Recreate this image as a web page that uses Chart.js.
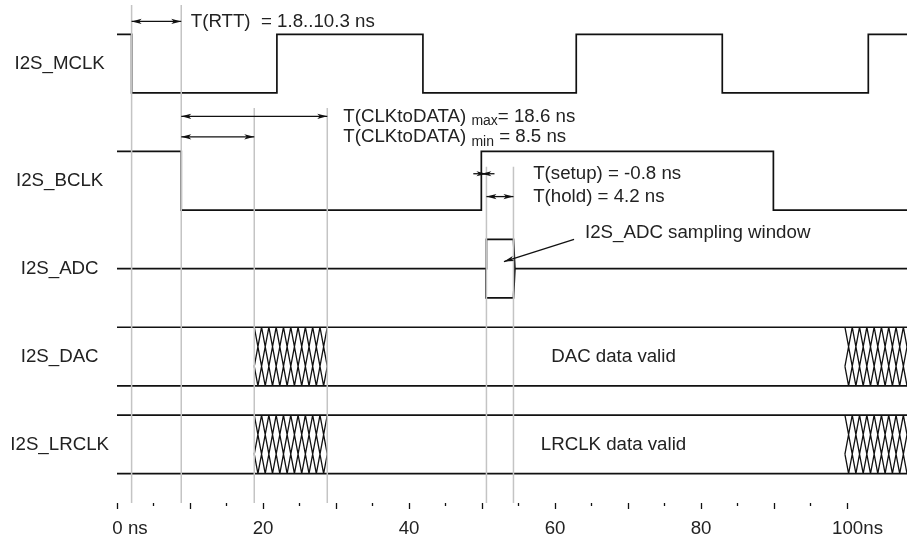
<!DOCTYPE html>
<html>
<head>
<meta charset="utf-8">
<script src="https://cdn.jsdelivr.net/npm/chart.js@4.4.1/dist/chart.umd.min.js"></script>
<style>
  html, body { margin: 0; padding: 0; background: #fff; }
</style>
</head>
<body>
<canvas id="timing" width="910" height="543"></canvas>
<script>
// time axis, ns
const axisTicks = [0, 5, 10, 15, 20, 25, 30, 35, 40, 45, 50, 55, 60, 65, 70, 75, 80, 85, 90, 95, 100];
const labelTicks = [0, 20, 40, 60, 80, 100];
const labelTexts = ['0 ns', '20', '40', '60', '80', '100ns'];
const endTime = 108.2;

// signal rows (row units, 0 = top)
const signalNames = ['I2S_MCLK', 'I2S_BCLK', 'I2S_ADC', 'I2S_DAC', 'I2S_LRCLK'];
const signalRows = [0.5, 2.5, 4, 5.5, 7];

// edges in ns, levels are [start, other]
const mclkEdges = [2.0, 21.9, 41.9, 62.9, 82.9, 102.9];
const mclkLevels = [0, 1];
const bclkEdges = [8.8, 49.9, 89.9];
const bclkLevels = [2, 3];
const adcLevel = 4;
const adcWindow = [50.6, 54.3];
const adcWindowRows = [3.5, 4.5];
const dacRows = [5, 6];
const lrclkRows = [6.5, 7.5];
const invalidSpans = [[18.8, 28.8], [99.7, 108.2]];

// grey reference lines
const markerTimes = [2.0, 8.8, 18.8, 28.8, 50.6, 54.3];
const markerTops = [-0.5, -0.5, 1.26, 1.26, 2.26, 2.26];

const FONT = 'Liberation Sans';
const INK = '#111';
const TXT = '#222';

function clockPoints(edges, levels) {
  let lvl = 0;
  const pts = [{ x: 0, y: levels[0] }];
  edges.forEach(t => {
    pts.push({ x: t, y: levels[lvl] });
    lvl = 1 - lvl;
    pts.push({ x: t, y: levels[lvl] });
  });
  pts.push({ x: endTime, y: levels[lvl] });
  return pts;
}

function busPoints(rows) {
  return [
    { x: 0, y: rows[0] }, { x: endTime, y: rows[0] }, { x: endTime, y: null },
    { x: 0, y: rows[1] }, { x: endTime, y: rows[1] }
  ];
}

// crossed hatch inside the invalid data spans
function hatchPoints(spans, busList) {
  const pts = [];
  const cell = 1.0, run = 1.5;
  busList.forEach(rows => {
    spans.forEach(([a, b]) => {
      for (let xs = a - 2 * cell; xs <= b + 2 * cell + 1e-6; xs += cell) {
        [1, -1].forEach(dir => {
          let t0 = 0, t1 = 1;
          const ta = (a - xs) / (dir * run * cell), tb = (b - xs) / (dir * run * cell);
          t0 = Math.max(t0, Math.min(ta, tb));
          t1 = Math.min(t1, Math.max(ta, tb));
          if (t1 <= t0) return;
          const h = rows[1] - rows[0];
          pts.push({ x: xs + dir * run * cell * t0, y: rows[0] + h * t0 });
          pts.push({ x: xs + dir * run * cell * t1, y: rows[0] + h * t1 });
          pts.push({ x: xs, y: null });
        });
      }
    });
  });
  return pts;
}

const markerPoints = [];
markerTimes.forEach((t, i) => {
  markerPoints.push({ x: t, y: markerTops[i] }, { x: t, y: 8 }, { x: t, y: null });
});

const adcPoints = [
  { x: 0, y: adcLevel }, { x: adcWindow[0] - 0.05, y: adcLevel },
  { x: adcWindow[0], y: adcWindowRows[0] }, { x: adcWindow[1], y: adcWindowRows[0] },
  { x: adcWindow[1] + 0.2, y: adcLevel }, { x: adcWindow[1], y: adcWindowRows[1] },
  { x: adcWindow[0], y: adcWindowRows[1] }, { x: adcWindow[0] - 0.05, y: adcLevel },
  { x: adcWindow[0] - 0.05, y: null },
  { x: adcWindow[1] + 0.2, y: adcLevel }, { x: endTime, y: adcLevel }
];

// label padding so the number sits on its tick and the unit hangs to the right
const measureCtx = document.createElement('canvas').getContext('2d');
measureCtx.font = '18.7px "' + FONT + '"';
function padLabel(txt) {
  const num = txt.match(/^\d+/)[0];
  const unit = txt.slice(num.length);
  if (!unit) return txt;
  const n = Math.round(measureCtx.measureText(unit).width / measureCtx.measureText(' ').width);
  return ' '.repeat(n) + txt;
}

function arrow(ctx, x1, y1, x2, y2, both) {
  ctx.beginPath();
  ctx.moveTo(x1, y1);
  ctx.lineTo(x2, y2);
  ctx.stroke();
  const head = (px, py, fx, fy) => {
    const a = Math.atan2(py - fy, px - fx);
    const L = 10, W = 2.6;
    ctx.beginPath();
    ctx.moveTo(px, py);
    ctx.lineTo(px - L * Math.cos(a) + W * Math.sin(a), py - L * Math.sin(a) - W * Math.cos(a));
    ctx.lineTo(px - L * 0.75 * Math.cos(a), py - L * 0.75 * Math.sin(a));
    ctx.lineTo(px - L * Math.cos(a) - W * Math.sin(a), py - L * Math.sin(a) + W * Math.cos(a));
    ctx.closePath();
    ctx.fill();
  };
  head(x2, y2, x1, y1);
  if (both) head(x1, y1, x2, y2);
}

const notes = {
  id: 'notes',
  afterDatasetsDraw(chart) {
    const { ctx, scales: { x, y } } = chart;
    const X = v => x.getPixelForValue(v), Y = v => y.getPixelForValue(v);
    ctx.save();
    ctx.strokeStyle = INK;
    ctx.fillStyle = INK;
    ctx.lineWidth = 1.3;

    arrow(ctx, X(2.0), Y(-0.22), X(8.8), Y(-0.22), true);
    arrow(ctx, X(8.8), Y(1.40), X(28.8), Y(1.40), true);
    arrow(ctx, X(8.8), Y(1.75), X(18.8), Y(1.75), true);
    arrow(ctx, X(48.8), Y(2.38), X(50.6), Y(2.38), false);
    arrow(ctx, X(51.7), Y(2.38), X(49.9), Y(2.38), false);
    arrow(ctx, X(50.6), Y(2.77), X(54.3), Y(2.77), true);
    arrow(ctx, X(62.6), Y(3.50), X(53.0), Y(3.88), false);

    ctx.fillStyle = TXT;
    ctx.textBaseline = 'middle';
    ctx.textAlign = 'left';
    const big = '18.7px "' + FONT + '"', small = '14px "' + FONT + '"';
    ctx.font = big;
    ctx.fillText('T(RTT)  = 1.8..10.3 ns', X(10.1), Y(-0.22));

    const sub = (row, lead, s, tail) => {
      let px = X(31.0);
      const py = Y(row);
      ctx.font = big;
      ctx.fillText(lead, px, py);
      px += ctx.measureText(lead).width;
      ctx.font = small;
      ctx.fillText(s, px, py + 5);
      px += ctx.measureText(s).width;
      ctx.font = big;
      ctx.fillText(tail, px, py);
    };
    sub(1.405, 'T(CLKtoDATA) ', 'max', '= 18.6 ns');
    sub(1.75, 'T(CLKtoDATA) ', 'min', ' = 8.5 ns');

    ctx.font = big;
    ctx.fillText('T(setup) = -0.8 ns', X(57.0), Y(2.38));
    ctx.fillText('T(hold) = 4.2 ns', X(57.0), Y(2.77));
    ctx.fillText('I2S_ADC sampling window', X(64.1), Y(3.39));
    ctx.textAlign = 'center';
    ctx.fillText('DAC data valid', X(68.0), Y(5.5));
    ctx.fillText('LRCLK data valid', X(68.0), Y(7.0));
    ctx.restore();
  }
};

const line = (data, extra) => Object.assign({
  data, borderColor: INK, borderWidth: 1.7, pointRadius: 0, spanGaps: false, tension: 0
}, extra || {});

new Chart(document.getElementById('timing').getContext('2d'), {
  type: 'line',
  data: {
    datasets: [
      line(markerPoints, { borderColor: '#c4c4c4', borderWidth: 1.5 }),
      line(clockPoints(mclkEdges, mclkLevels)),
      line(clockPoints(bclkEdges, bclkLevels)),
      line(adcPoints),
      line(busPoints(dacRows)),
      line(busPoints(lrclkRows)),
      line(hatchPoints(invalidSpans, [dacRows, lrclkRows]), { borderWidth: 1.3 })
    ]
  },
  options: {
    responsive: false,
    animation: false,
    events: [],
    layout: { padding: { top: 5, right: 3, left: 0, bottom: 0 } },
    plugins: { legend: { display: false }, tooltip: { enabled: false } },
    scales: {
      x: {
        type: 'linear', position: 'bottom', min: 0, max: endTime,
        afterBuildTicks: s => { s.ticks = axisTicks.map(v => ({ value: v })); },
        afterFit: s => { s.height = 40; s.paddingLeft = 0; s.paddingRight = 0; },
        border: { display: false },
        grid: {
          drawOnChartArea: false, drawTicks: true, tickLength: 6,
          tickColor: INK, tickWidth: 1.3,
          tickBorderDash: c => (c.tick && c.tick.value % 10 !== 0) ? [3, 20] : []
        },
        ticks: {
          autoSkip: false, maxRotation: 0, padding: 9, color: TXT,
          font: { family: FONT, size: 18.7 },
          callback: v => {
            const i = labelTicks.indexOf(v);
            return i < 0 ? '' : padLabel(labelTexts[i]);
          }
        }
      },
      y: {
        type: 'linear', reverse: true, min: -0.5, max: 8,
        afterBuildTicks: s => { s.ticks = signalRows.map(v => ({ value: v })); },
        afterFit: s => { s.width = 117; s.paddingTop = 0; s.paddingBottom = 0; },
        border: { display: false },
        grid: { display: false, drawTicks: false },
        ticks: {
          autoSkip: false, crossAlign: 'center', padding: 8, color: TXT,
          font: { family: FONT, size: 18.7 },
          callback: v => signalNames[signalRows.indexOf(v)]
        }
      }
    }
  },
  plugins: [notes]
});
</script>
</body>
</html>
